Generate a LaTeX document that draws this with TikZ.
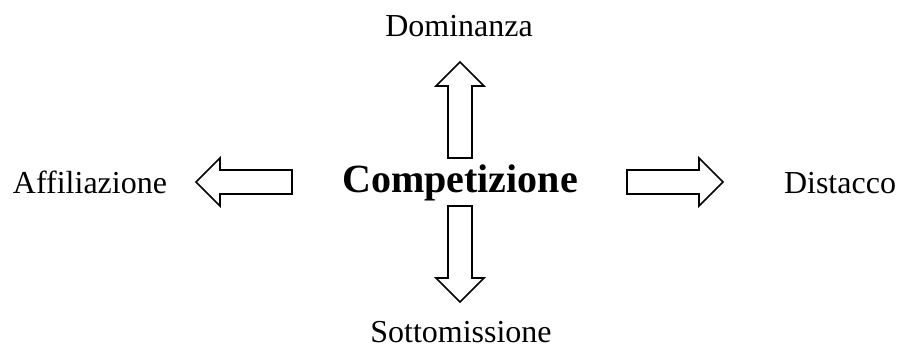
\documentclass[tikz,border=0pt]{standalone}
\usepackage{fontspec}
\setmainfont{Liberation Serif}
\usetikzlibrary{calc}

\tikzset{blockarrow/.pic={\draw [line width=1.2pt,miter limit=10] (0,-12) -- (72,-12) -- (72,-24) -- (96,0) -- (72,24) -- (72,12) -- (0,12) -- cycle;}}

\begin{document}
\begin{tikzpicture}[x=0.75pt,y=-0.75pt,inner sep=0pt,lbl/.style={font=\fontsize{24}{29}\selectfont,anchor=base}]%,>=stealth'
\useasboundingbox (0,0) rectangle (898,347);
\draw node [lbl] (dom) at (459,36) {Dominanza};
\draw node [lbl] (aff) at (90,193) {Affiliazione};
\draw node [lbl] (dist) at (840,193) {Distacco};
\draw node [lbl] (sott) at (461,342) {Sottomissione};
\draw node [anchor=base,font=\fontsize{30}{36}\selectfont\bfseries] (comp) at (460,192) {Competizione};
\pic [rotate=90] (up) at (460,158) {blockarrow};
\pic [rotate=-90] (down) at (460,206) {blockarrow};
\pic [rotate=180] (left) at (292,182) {blockarrow};
\pic (right) at (627,182) {blockarrow};
\end{tikzpicture}
\end{document}
